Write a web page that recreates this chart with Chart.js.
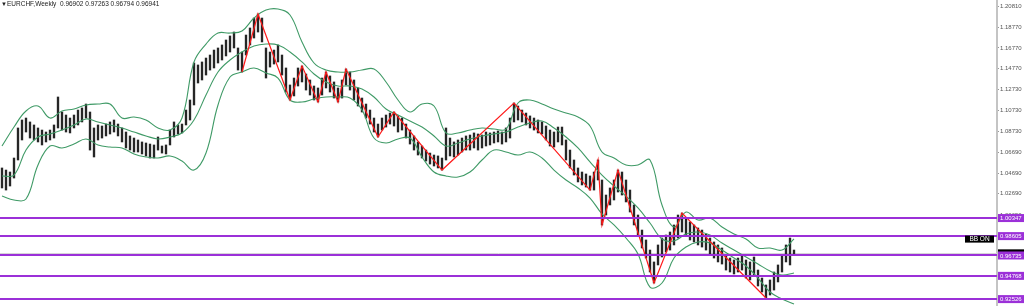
<!DOCTYPE html>
<html><head><meta charset="utf-8">
<script src="https://cdn.jsdelivr.net/npm/chart.js@4/dist/chart.umd.min.js"></script>
<style>html,body{margin:0;padding:0;background:#fff;overflow:hidden}</style>
</head><body>
<canvas id="c" width="1024" height="306"></canvas>
<script>
const symbolTitle = "EURCHF,Weekly";
const lastOHLC = ["0.96902", "0.97263", "0.96794", "0.96941"];

const barHigh = [
 1.0518,1.0498,1.0479,1.0614,1.0904,1.0981,1.1000,1.0962,1.0933,1.0904,
 1.0884,1.0865,1.0884,1.0933,1.1203,1.1058,1.1029,1.1000,1.1029,1.1077,
 1.1097,1.1135,1.1058,1.0904,1.0933,1.0923,1.0942,1.0962,1.0981,1.0942,
 1.0904,1.0865,1.0827,1.0807,1.0788,1.0769,1.0759,1.0749,1.0740,1.0817,
 1.0730,1.0740,1.0884,1.0962,1.0933,1.0942,1.1077,1.1174,1.1531,1.1512,
 1.1541,1.1579,1.1608,1.1656,1.1676,1.1705,1.1753,1.1792,1.1830,1.1676,
 1.1637,1.1801,1.1869,1.1965,1.2004,1.1965,1.1676,1.1637,1.1656,1.1705,
 1.1608,1.1483,1.1319,1.1386,1.1483,1.1502,1.1425,1.1367,1.1309,1.1290,
 1.1386,1.1444,1.1406,1.1348,1.1290,1.1367,1.1473,1.1444,1.1367,1.1290,
 1.1193,1.1135,1.1077,1.1000,1.0942,1.1000,1.1029,1.1048,1.1058,1.1020,
 1.1000,1.0942,1.0884,1.0827,1.0769,1.0730,1.0691,1.0662,1.0643,1.0634,
 1.0614,1.0904,1.0807,1.0769,1.0788,1.0807,1.0827,1.0836,1.0856,1.0846,
 1.0836,1.0865,1.0856,1.0865,1.0875,1.0865,1.0904,1.1000,1.1145,1.1116,
 1.1077,1.1048,1.1020,1.1000,1.0981,1.0962,1.0923,1.0884,1.0865,1.0913,
 1.0913,1.0788,1.0691,1.0595,1.0518,1.0479,1.0460,1.0441,1.0479,1.0595,
 1.0402,1.0257,1.0325,1.0402,1.0498,1.0479,1.0402,1.0305,1.0161,1.0064,
 0.9919,0.9823,0.9726,0.9611,0.9775,0.9842,0.9871,0.9900,0.9968,1.0064,
 1.0083,1.0035,0.9997,0.9968,0.9939,0.9919,0.9881,0.9842,0.9804,0.9775,
 0.9746,0.9678,0.9649,0.9630,0.9649,0.9678,0.9630,0.9611,0.9659,0.9533,
 0.9456,0.9389,0.9437,0.9514,0.9582,0.9678,0.9775,0.9842,0.9726
];
const barLow = [
 1.0325,1.0305,1.0344,1.0421,1.0595,1.0788,1.0865,1.0807,1.0788,1.0769,
 1.0740,1.0769,1.0788,1.0807,1.0904,1.0884,1.0865,1.0856,1.0904,1.0933,
 1.0962,1.1000,1.0691,1.0624,1.0788,1.0807,1.0827,1.0846,1.0865,1.0827,
 1.0769,1.0711,1.0691,1.0672,1.0672,1.0653,1.0634,1.0614,1.0614,1.0691,
 1.0662,1.0653,1.0740,1.0817,1.0846,1.0856,1.0933,1.0981,1.1126,1.1338,
 1.1367,1.1415,1.1463,1.1483,1.1531,1.1560,1.1599,1.1637,1.1676,1.1463,
 1.1444,1.1608,1.1705,1.1772,1.1830,1.1734,1.1386,1.1492,1.1521,1.1541,
 1.1415,1.1251,1.1174,1.1213,1.1309,1.1348,1.1270,1.1222,1.1174,1.1155,
 1.1222,1.1290,1.1251,1.1193,1.1155,1.1193,1.1319,1.1270,1.1174,1.1116,
 1.1058,1.1000,1.0942,1.0865,1.0817,1.0884,1.0913,1.0942,1.0923,1.0865,
 1.0884,1.0807,1.0749,1.0691,1.0643,1.0614,1.0585,1.0556,1.0537,1.0518,
 1.0498,1.0595,1.0634,1.0624,1.0643,1.0672,1.0691,1.0691,1.0711,1.0691,
 1.0711,1.0730,1.0740,1.0759,1.0769,1.0749,1.0769,1.0807,1.0962,1.0981,
 1.0962,1.0933,1.0904,1.0884,1.0856,1.0846,1.0788,1.0730,1.0720,1.0769,
 1.0740,1.0595,1.0518,1.0450,1.0383,1.0354,1.0334,1.0305,1.0305,1.0402,
 0.9968,1.0064,1.0161,1.0209,1.0286,1.0257,1.0190,1.0093,0.9968,0.9871,
 0.9746,0.9649,0.9514,0.9408,0.9582,0.9659,0.9707,0.9726,0.9775,0.9842,
 0.9900,0.9861,0.9823,0.9804,0.9775,0.9755,0.9726,0.9678,0.9649,0.9611,
 0.9591,0.9533,0.9514,0.9495,0.9514,0.9533,0.9456,0.9437,0.9485,0.9379,
 0.9321,0.9263,0.9292,0.9340,0.9418,0.9514,0.9611,0.9582,0.9679
];

const bandWeek = [0,3,6,9,12,15,18,21,24,27,30,33,36,39,42,45,48,51,54,57,
 60,63,66,69,72,75,78,81,84,87,90,93,96,99,102,105,108,111,114,117,
 120,123,126,129,132,135,138,141,144,147,150,153,156,159,162,165,168,171,174,177,
 180,183,186,189,192,195,198];
const bbUpper = [
 1.0730,1.0913,1.1068,1.1116,1.1000,1.1068,1.1087,1.1126,1.1135,1.1135,
 1.1000,1.1010,1.0981,1.0904,1.0884,1.1000,1.1541,1.1714,1.1820,1.1820,
 1.1840,1.1965,1.2042,1.2052,1.1994,1.1734,1.1531,1.1463,1.1444,1.1444,
 1.1463,1.1473,1.1348,1.1174,1.1058,1.1135,1.1116,1.0856,1.0856,1.0884,
 1.0904,1.0894,1.0894,1.1145,1.1174,1.1135,1.1087,1.1048,1.1010,1.0923,
 1.0672,1.0614,1.0547,1.0547,1.0595,1.0161,0.9948,1.0093,1.0016,1.0035,
 0.9948,0.9881,0.9833,0.9746,0.9746,0.9726,0.9833
];
const bbMiddle = [
 1.0440,1.0450,1.0691,1.0817,1.0846,1.0884,1.0933,1.0991,1.0962,1.0933,
 1.0904,1.0865,1.0827,1.0798,1.0817,1.0856,1.0981,1.1222,1.1444,1.1560,
 1.1637,1.1695,1.1714,1.1705,1.1637,1.1541,1.1425,1.1348,1.1309,1.1309,
 1.1280,1.1203,1.1087,1.1029,1.0971,1.0913,1.0827,1.0730,1.0759,1.0798,
 1.0827,1.0846,1.0865,1.0913,1.0952,1.0971,1.0904,1.0817,1.0711,1.0576,
 1.0450,1.0344,1.0247,1.0132,0.9987,0.9833,0.9813,0.9881,0.9900,0.9871,
 0.9794,0.9726,0.9659,0.9591,0.9524,0.9485,0.9504
];
const bbLower = [
 1.0247,1.0209,1.0218,1.0547,1.0730,1.0711,1.0749,1.0798,1.0740,1.0720,
 1.0711,1.0653,1.0624,1.0614,1.0634,1.0585,1.0498,1.0662,1.1126,1.1396,
 1.1444,1.1483,1.1435,1.1386,1.1174,1.1155,1.1184,1.1203,1.1203,1.1193,
 1.1077,1.0807,1.0759,1.0798,1.0807,1.0624,1.0479,1.0441,1.0431,1.0479,
 1.0595,1.0691,1.0672,1.0643,1.0672,1.0614,1.0498,1.0402,1.0325,1.0228,
 1.0074,0.9968,0.9842,0.9688,0.9369,0.9408,0.9649,0.9755,0.9804,0.9794,
 0.9726,0.9649,0.9572,0.9456,0.9321,0.9254,0.9205
];

const zigWeek  = [60,64,72,75,79,81,84,86,94,98,110,128,147,149,150,154,163,170,191];
const zigPrice = [1.1444,1.2004,1.1174,1.1502,1.1155,1.1444,1.1155,1.1473,1.0817,1.1058,
                  1.0498,1.1145,1.0305,1.0595,0.9968,1.0498,0.9408,1.0083,0.9263];

const levels      = [1.00347, 0.98605, 0.96735, 0.94768, 0.92526];
const levelLabels = ["1.00347", "0.98605", "0.96735", "0.94768", "0.92526"];
const yTicks = [1.20810,1.18770,1.16770,1.14770,1.12730,1.10730,1.08730,1.06690,1.04690,1.02690,1.00650];
const bidPrice = 0.96941;
const bidLabel = "0.96941";

const PURPLE = '#9b30d8';
const GREEN = '#3f9a66';
const FONT = 'Liberation Sans, Arial, sans-serif';

const overlay = {
  id: 'overlay',
  beforeDatasetsDraw(chart) {
    const {ctx, chartArea: a, scales: {y}} = chart;
    const yb = Math.round(y.getPixelForValue(bidPrice)) + 0.5;
    ctx.save();
    ctx.strokeStyle = '#d6d6d6';
    ctx.lineWidth = 1;
    ctx.beginPath(); ctx.moveTo(a.left, yb); ctx.lineTo(a.right, yb); ctx.stroke();
    ctx.restore();
  },
  afterDatasetsDraw(chart) {
    const {ctx, chartArea: a, scales: {y}} = chart;
    ctx.save();
    ctx.strokeStyle = PURPLE;
    ctx.lineWidth = 2;
    levels.forEach(v => {
      const py = Math.round(y.getPixelForValue(v));
      ctx.beginPath(); ctx.moveTo(a.left, py); ctx.lineTo(a.right, py); ctx.stroke();
    });
    // BB ON box
    const by = y.getPixelForValue(levels[1]);
    ctx.fillStyle = '#000';
    ctx.fillRect(965, by - 0.5, 29, 7);
    ctx.fillStyle = '#fff';
    ctx.font = '6.5px ' + FONT;
    ctx.textAlign = 'center'; ctx.textBaseline = 'middle';
    ctx.fillText('BB ON', 979.5, by + 3.2);
    // title
    ctx.fillStyle = '#222';
    ctx.textAlign = 'left';
    ctx.font = '6px ' + FONT;
    ctx.fillText('\u25BC', 1, 4);
    ctx.font = '6.5px ' + FONT;
    ctx.fillText(symbolTitle + '  ' + lastOHLC.join(' '), 7, 4.5);
    ctx.restore();
  },
  afterDraw(chart) {
    const {ctx, chartArea: a, scales: {y}} = chart;
    ctx.save();
    ctx.font = '6px ' + FONT;
    ctx.textAlign = 'left'; ctx.textBaseline = 'middle';
    const yb = y.getPixelForValue(bidPrice);
    ctx.fillStyle = '#000';
    ctx.fillRect(a.right + 1, yb - 4, 26, 8);
    ctx.fillStyle = '#fff';
    ctx.fillText(bidLabel, a.right + 3, yb + 0.5);
    levels.forEach((v, i) => {
      const py = y.getPixelForValue(v);
      ctx.fillStyle = PURPLE;
      ctx.fillRect(a.right + 1, py - 4, 26, 8);
      ctx.fillStyle = '#fff';
      ctx.fillText(levelLabels[i], a.right + 3, py + 0.5);
    });
    ctx.restore();
  }
};

const lineDs = (vals, color, order) => ({
  type: 'line',
  data: bandWeek.map((w, j) => ({x: w, y: vals[j]})),
  borderColor: color, borderWidth: 1.1, pointRadius: 0, tension: 0.4,
  fill: false, order
});

new Chart(document.getElementById('c'), {
  type: 'bar',
  data: {
    datasets: [
      {
        type: 'bar',
        data: barHigh.map((h, k) => ({x: k, y: [barLow[k], h]})),
        backgroundColor: '#262626',
        borderWidth: 0,
        barThickness: 1.7,
        order: 4
      },
      lineDs(bbUpper, GREEN, 3),
      lineDs(bbMiddle, GREEN, 3),
      lineDs(bbLower, GREEN, 3),
      {
        type: 'line',
        data: zigWeek.map((w, j) => ({x: w, y: zigPrice[j]})),
        borderColor: '#ff1a1a', borderWidth: 1.2, pointRadius: 0, tension: 0,
        fill: false, order: 1
      }
    ]
  },
  options: {
    responsive: false,
    devicePixelRatio: 1,
    animation: false,
    layout: {padding: 0},
    plugins: {legend: {display: false}, tooltip: {enabled: false}},
    scales: {
      x: {type: 'linear', min: -0.5, max: 248.75, offset: false, display: false, grid: {display: false}},
      y: {
        position: 'right',
        min: 0.9186, max: 1.2139,
        afterFit(s) { s.width = 27; s.paddingTop = 0; s.paddingBottom = 0; },
        afterBuildTicks(s) { s.ticks = yTicks.map(v => ({value: v})); },
        ticks: {
          autoSkip: false,
          callback: v => Number(v).toFixed(5),
          font: {family: FONT, size: 6},
          color: '#555',
          padding: 1
        },
        grid: {drawOnChartArea: false, drawTicks: true, tickLength: 2, color: '#999'},
        border: {display: true, color: '#c4c4c4', width: 2}
      }
    }
  },
  plugins: [overlay]
});
</script>
</body></html>
